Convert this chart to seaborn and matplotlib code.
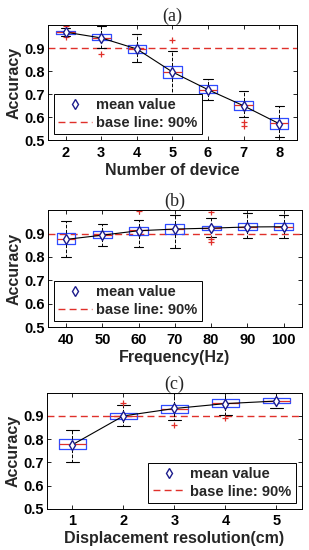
import numpy as np
import matplotlib.pyplot as plt
from matplotlib.lines import Line2D
import seaborn as sns

# ---- data (box summaries per setting) ----
# (a) number of device
dev_labels = ["2", "3", "4", "5", "6", "7", "8"]
dev_q1 = [0.963, 0.935, 0.880, 0.770, 0.707, 0.632, 0.548]
dev_med = [0.970, 0.945, 0.897, 0.795, 0.720, 0.652, 0.573]
dev_q3 = [0.975, 0.960, 0.916, 0.821, 0.740, 0.671, 0.598]
dev_lo = [0.955, 0.900, 0.842, 0.694, 0.677, 0.600, 0.516]
dev_hi = [0.990, 0.995, 0.963, 0.887, 0.766, 0.714, 0.647]
dev_mean = [0.970, 0.945, 0.897, 0.797, 0.720, 0.650, 0.572]
dev_fliers = [[0.995, 0.950], [0.874], [], [0.936], [], [0.579, 0.560], []]

# (b) frequency
freq_labels = ["40", "50", "60", "70", "80", "90", "100"]
freq_q1 = [0.854, 0.883, 0.894, 0.897, 0.913, 0.916, 0.916]
freq_med = [0.875, 0.895, 0.913, 0.921, 0.924, 0.930, 0.930]
freq_q3 = [0.902, 0.909, 0.930, 0.942, 0.934, 0.944, 0.947]
freq_lo = [0.800, 0.847, 0.843, 0.838, 0.887, 0.883, 0.880]
freq_hi = [0.955, 0.942, 0.959, 0.977, 0.967, 0.986, 0.980]
freq_mean = [0.875, 0.893, 0.912, 0.919, 0.923, 0.928, 0.929]
freq_fliers = [[], [], [0.995], [], [0.992, 0.877, 0.863], [], []]

# (c) displacement resolution
res_labels = ["1", "2", "3", "4", "5"]
res_q1 = [0.756, 0.888, 0.914, 0.940, 0.955]
res_med = [0.777, 0.900, 0.930, 0.955, 0.965]
res_q3 = [0.800, 0.914, 0.948, 0.971, 0.978]
res_lo = [0.700, 0.855, 0.883, 0.903, 0.932]
res_hi = [0.839, 0.945, 0.997, 0.997, 0.997]
res_mean = [0.776, 0.900, 0.932, 0.953, 0.964]
res_fliers = [[], [0.955], [0.862], [0.890], []]

baseline = 0.9

sns.set_theme(style="ticks")
plt.rcParams['font.family'] = ['Liberation Sans', 'DejaVu Sans']
plt.rcParams['font.weight'] = 'bold'
plt.rcParams['axes.labelweight'] = 'bold'

BLUE = "#2f4bff"
NAVY = "#1c1c8c"
RED = "#e0302a"


def panel(ax, labels, q1, med, q3, lo, hi, mean, fliers, title, xlabel, legend_loc):
    pos = np.arange(len(labels))
    stats = [dict(q1=a, med=m, q3=b, whislo=l, whishi=h, fliers=f)
             for a, m, b, l, h, f in zip(q1, med, q3, lo, hi, fliers)]
    ax.bxp(stats, positions=pos, widths=0.52, showfliers=True,
           boxprops=dict(color=BLUE, linewidth=0.9),
           medianprops=dict(color=RED, linewidth=0.9),
           whiskerprops=dict(color="black", linewidth=0.7, linestyle="--"),
           capprops=dict(color="black", linewidth=0.8),
           flierprops=dict(marker="+", markeredgecolor=RED, markersize=5,
                           markeredgewidth=0.9, linestyle="none"))
    ax.axhline(baseline, color=RED, linestyle="--", linewidth=1.0, dashes=(5, 3), zorder=1)
    sns.lineplot(x=pos, y=mean, ax=ax, color="black", linewidth=0.8, zorder=4)
    ax.plot(pos, mean, linestyle="none", marker="d", markersize=5,
            markerfacecolor="white", markeredgecolor=NAVY, markeredgewidth=1.0, zorder=5)
    ax.set_xlim(-0.5, len(labels) - 0.5)
    ax.set_ylim(0.5, 1.0)
    ax.set_yticks([0.5, 0.6, 0.7, 0.8, 0.9])
    ax.set_xticks(pos)
    ax.set_xticklabels(labels)
    ax.tick_params(direction="in", top=True, right=True, length=3, width=0.6,
                   labelsize=10.5, colors="black")
    ax.tick_params(axis="x", pad=4)
    ax.tick_params(axis="y", pad=2.5)
    for t in ax.get_xticklabels() + ax.get_yticklabels():
        t.set_fontweight("bold")
    for s in ax.spines.values():
        s.set_color("black")
        s.set_linewidth(0.7)
    ax.set_ylabel("Accuracy", fontsize=11.5, fontweight="bold", labelpad=2)
    ax.set_xlabel(xlabel, fontsize=11.5, fontweight="bold", labelpad=2)
    ax.set_title(title, fontsize=13, family="Liberation Serif", fontweight="normal", pad=3)
    handles = [Line2D([], [], marker="d", linestyle="none", markersize=5,
                      markerfacecolor="white", markeredgecolor=NAVY, markeredgewidth=1.0),
               Line2D([], [], color=RED, linestyle="--", dashes=(5, 3), linewidth=1.0)]
    leg = ax.legend(handles, ["mean value", "base line: 90%"], loc=legend_loc,
                    frameon=True, fancybox=False, handlelength=2.3,
                    borderpad=0.3, labelspacing=0.25, handletextpad=0.3,
                    borderaxespad=0.4, prop=dict(weight="bold", size=10.5))
    leg.get_frame().set_edgecolor("black")
    leg.get_frame().set_linewidth(0.7)
    leg.get_frame().set_alpha(1)


fig = plt.figure(figsize=(3.09, 5.5), dpi=100)
ax_a = fig.add_axes([0.155, 0.745, 0.806, 0.209])
ax_b = fig.add_axes([0.155, 0.405, 0.822, 0.213])
ax_c = fig.add_axes([0.152, 0.075, 0.825, 0.211])

panel(ax_a, dev_labels, dev_q1, dev_med, dev_q3, dev_lo, dev_hi, dev_mean, dev_fliers,
      "(a)", "Number of device", "lower left")
panel(ax_b, freq_labels, freq_q1, freq_med, freq_q3, freq_lo, freq_hi, freq_mean, freq_fliers,
      "(b)", "Frequency(Hz)", "lower left")
panel(ax_c, res_labels, res_q1, res_med, res_q3, res_lo, res_hi, res_mean, res_fliers,
      "(c)", "Displacement resolution(cm)", "lower right")

fig.savefig("out.png", dpi=100)
